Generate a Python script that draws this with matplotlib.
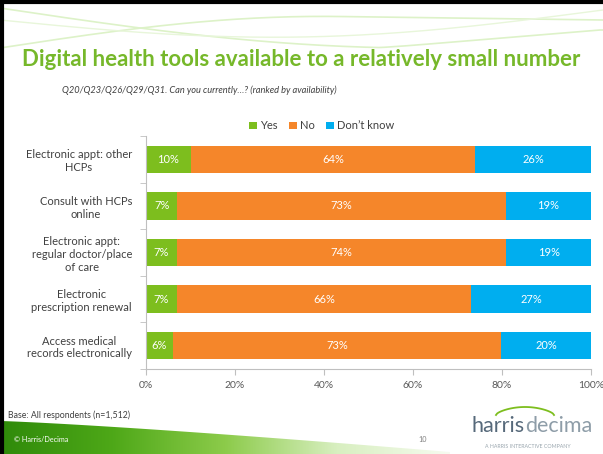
import numpy as np
import matplotlib.pyplot as plt
from matplotlib.patches import Polygon
from matplotlib.colors import LinearSegmentedColormap

plt.rcParams['font.family'] = ['Lato', 'DejaVu Sans']

# data
categories = [
    "Electronic appt: other\nHCPs",
    "Consult with HCPs\nonline",
    "Electronic appt:\nregular doctor/place\nof care",
    "Electronic\nprescription renewal",
    "Access medical\nrecords electronically",
]
yes = [10, 7, 7, 7, 6]
no = [64, 73, 74, 66, 73]
dont_know = [26, 19, 19, 27, 20]
series_names = ["Yes", "No", "Don\u2019t know"]
colors = ["#7DBE1E", "#F5862A", "#00AEEF"]
x_ticks = [0, 20, 40, 60, 80, 100]

W, H = 603, 454
fig = plt.figure(figsize=(W / 100, H / 100), dpi=100)

# background layer in pixel coordinates
bg = fig.add_axes([0, 0, 1, 1], zorder=0)
bg.set_xlim(0, W)
bg.set_ylim(H, 0)
bg.axis("off")

# faint decorative curves at the top
t = np.linspace(0, W, 200)
bg.plot(t, 48 - 36 * np.sin(np.clip(t / 340, 0, 1) * np.pi / 2) + 8 * (t / W), color="#DDF2C8", lw=1.2)
bg.plot(t, 8 + 40 * np.sin(np.clip(t / 420, 0, 1) * np.pi / 2) - 18 * np.clip((t - 380) / 220, 0, 1), color="#DDF2C8", lw=1.2)
bg.plot(t, 20 + 22 * np.sin(t / W * np.pi) - 10 * (t / W), color="#E8F6DA", lw=1.0)

# green swoosh at the bottom
sx = np.linspace(0, 450, 100)
top = 421 + 31 * (sx / 450) ** 1.2
poly = np.vstack([np.column_stack([sx, top]), [[450, H], [0, H]]])
patch = Polygon(poly, closed=True, facecolor="none", edgecolor="none")
bg.add_patch(patch)
grad = np.linspace(0, 1, 256)[None, :]
cm = LinearSegmentedColormap.from_list("g", ["#2F8A0A", "#4EA818", "#8CCB4A", "#D8EFC0", "#F6FBF0"])
im = bg.imshow(grad, extent=[0, 450, H, 415], aspect="auto", cmap=cm, zorder=1)
im.set_clip_path(patch)

# black frame on left and top
bg.plot([1.5, 1.5], [0, H], color="black", lw=3, zorder=5)
bg.plot([0, W], [1.5, 1.5], color="black", lw=3, zorder=5)

# texts
bg.text(22, 60, "Digital health tools available to a relatively small number",
        fontsize=16, fontweight="bold", color="#76B82A", va="center", ha="left")
bg.text(62, 90, "Q20/Q23/Q26/Q29/Q31. Can you currently\u2026? (ranked by availability)",
        fontsize=6.7, style="italic", color="#404040", va="center", ha="left")
bg.text(8, 415, "Base: All respondents (n=1,512)", fontsize=6.3, color="#404040", va="center")
bg.text(14, 440, "\u00a9 Harris/Decima", fontsize=5.2, color="white", va="center")
bg.text(423, 440, "10", fontsize=5.2, color="#808080", va="center", ha="center")
bg.text(525, 426, "harris", fontsize=15.5, color="#56697A", va="center", ha="right")
bg.text(525, 426, "decima", fontsize=15.5, color="#8E9DA8", va="center", ha="left")
bg.text(528, 446, "A HARRIS INTERACTIVE COMPANY", fontsize=3.8, color="#9AA6AE", va="center", ha="center")
arc_x = np.linspace(496, 554, 50)
bg.plot(arc_x, 415 - 8 * np.sin((arc_x - 496) / 58 * np.pi) ** 0.6, color="#7DBE1E", lw=1.3)

# main chart
ax = fig.add_axes([146 / W, 1 - 369 / H, (591 - 146) / W, (369 - 136) / H], zorder=2)
ax.patch.set_alpha(0)

values = np.array([yes, no, dont_know], dtype=float)
totals = values.sum(axis=0)
shares = values / totals * 100
y = np.arange(len(categories))
left = np.zeros(len(categories))
for i in range(3):
    ax.barh(y, shares[i], left=left, height=0.59, color=colors[i], label=series_names[i])
    for j in range(len(categories)):
        ax.text(left[j] + shares[i][j] / 2, y[j], f"{int(values[i][j])}%",
                ha="center", va="center", color="white", fontsize=8)
    left += shares[i]

ax.set_xlim(0, 100)
ax.set_ylim(len(categories) - 0.5, -0.5)
ax.set_xticks(x_ticks)
ax.set_xticklabels([f"{v}%" for v in x_ticks])
ax.set_yticks(y)
ax.set_yticklabels(categories)
for lab in ax.get_yticklabels():
    lab.set_multialignment("center")
ax.set_yticks(np.arange(-0.5, len(categories)), minor=True)
ax.tick_params(axis="y", which="major", length=0, pad=10, labelsize=8, labelcolor="#404040")
ax.tick_params(axis="y", which="minor", length=4, color="#BFBFBF")
ax.tick_params(axis="x", length=4, color="#BFBFBF", labelsize=7.5, labelcolor="#595959", pad=5)
for s in ["top", "right"]:
    ax.spines[s].set_visible(False)
for s in ["left", "bottom"]:
    ax.spines[s].set_color("#BFBFBF")

fig.legend(loc="center", bbox_to_anchor=(322 / W, 1 - 126 / H), ncol=3, frameon=False,
           fontsize=8, handlelength=0.7, handleheight=0.7, handletextpad=0.3,
           columnspacing=1.0, labelcolor="#404040")

fig.savefig("out.png", dpi=100)
